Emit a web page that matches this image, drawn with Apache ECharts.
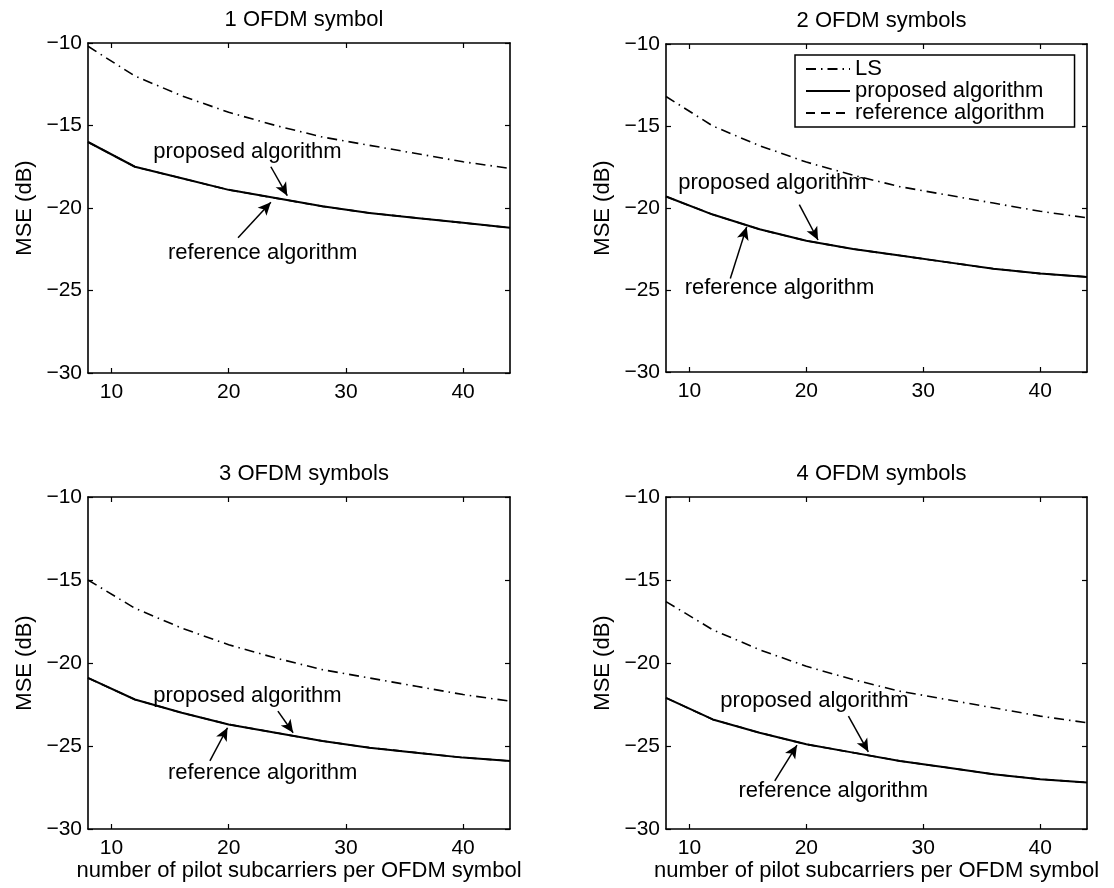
<!DOCTYPE html>
<html>
<head>
<meta charset="utf-8">
<script src="https://cdn.jsdelivr.net/npm/echarts@6/dist/echarts.min.js"></script>
<style>html,body{margin:0;padding:0;background:#fff;}#c{width:1114px;height:888px;}</style>
</head>
<body>
<div id="c"></div>
<script>
// ---- data ----
const pilots = [8, 12, 16, 20, 24, 28, 32, 36, 40, 44];
const xTicks = [10, 20, 30, 40];
const yTicks = [-30, -25, -20, -15, -10];
const titles = ['1 OFDM symbol', '2 OFDM symbols', '3 OFDM symbols', '4 OFDM symbols'];
const seriesNames = ['LS', 'proposed algorithm', 'reference algorithm'];

const ls1   = [-10.2, -12.0, -13.2, -14.2, -15.0, -15.7, -16.2, -16.7, -17.2, -17.6];
const prop1 = [-16.0, -17.5, -18.2, -18.9, -19.4, -19.9, -20.3, -20.6, -20.9, -21.2];
const ref1  = [-16.0, -17.5, -18.2, -18.9, -19.4, -19.9, -20.3, -20.6, -20.9, -21.2];

const ls2   = [-13.2, -15.0, -16.2, -17.2, -18.0, -18.7, -19.2, -19.7, -20.2, -20.6];
const prop2 = [-19.3, -20.4, -21.3, -22.0, -22.5, -22.9, -23.3, -23.7, -24.0, -24.2];
const ref2  = [-19.3, -20.4, -21.3, -22.0, -22.5, -22.9, -23.3, -23.7, -24.0, -24.2];

const ls3   = [-15.0, -16.7, -17.9, -18.9, -19.7, -20.4, -20.9, -21.4, -21.9, -22.3];
const prop3 = [-20.9, -22.2, -23.0, -23.7, -24.2, -24.7, -25.1, -25.4, -25.7, -25.9];
const ref3  = [-20.9, -22.2, -23.0, -23.7, -24.2, -24.7, -25.1, -25.4, -25.7, -25.9];

const ls4   = [-16.3, -18.0, -19.2, -20.2, -21.0, -21.7, -22.2, -22.7, -23.2, -23.6];
const prop4 = [-22.1, -23.4, -24.2, -24.9, -25.4, -25.9, -26.3, -26.7, -27.0, -27.2];
const ref4  = [-22.1, -23.4, -24.2, -24.9, -25.4, -25.9, -26.3, -26.7, -27.0, -27.2];

// annotation anchor points in data coordinates (pilots, MSE dB)
const propText  = [[21.6, -16.6], [17.1, -18.5], [21.6, -22.0], [20.7, -22.3]];
const propArrow = [[[23.6, -17.5], [25.0, -19.25]], [[19.4, -19.8], [21.0, -21.95]], [[24.2, -22.9], [25.5, -24.2]], [[23.6, -23.2], [25.3, -25.35]]];
const refText   = [[22.9, -22.75], [17.7, -24.9], [22.9, -26.6], [22.3, -27.7]];
const refArrow  = [[[20.8, -21.8], [23.6, -19.65]], [[13.5, -24.3], [14.9, -21.15]], [[18.4, -25.9], [19.9, -23.9]], [[17.3, -27.1], [19.2, -24.95]]];

const lsData = [ls1, ls2, ls3, ls4];
const propData = [prop1, prop2, prop3, prop4];
const refData = [ref1, ref2, ref3, ref4];

// ---- layout ----
const FONT = 'Liberation Sans, Arial, Helvetica, sans-serif';
const FS = 22;
const FT = 21;
const grids = [
  {left: 88, top: 43, width: 422, height: 330},
  {left: 666, top: 44, width: 421, height: 328},
  {left: 88, top: 497, width: 422, height: 332},
  {left: 666, top: 497, width: 421, height: 332}
];
const minus = v => String(v).replace('-', '\u2212');
const lineCol = '#000';

const option = {
  animation: false,
  backgroundColor: '#fff',
  textStyle: {fontFamily: FONT, color: '#000'},
  title: [],
  legend: {
    data: seriesNames,
    orient: 'vertical',
    left: 795, top: 55,
    itemWidth: 44, itemHeight: 14, itemGap: 0,
    padding: [3, 30, 3, 10],
    backgroundColor: '#fff',
    borderColor: '#000', borderWidth: 1.5, borderRadius: 0,
    itemStyle: {color: 'rgba(0,0,0,0)', borderColor: 'rgba(0,0,0,0)', borderWidth: 0, opacity: 0},
    textStyle: {fontFamily: FONT, fontSize: FS, color: '#000', lineHeight: 20, height: 20},
    selectedMode: false
  },
  grid: [],
  xAxis: [],
  yAxis: [],
  series: []
};

grids.forEach((g, i) => {
  option.grid.push(Object.assign({containLabel: false, show: false}, g));
  option.title.push({
    text: titles[i],
    left: g.left + g.width / 2,
    top: g.top - 39,
    textAlign: 'center',
    textStyle: {fontFamily: FONT, fontSize: FS, fontWeight: 'normal', color: '#000'}
  });
  const bottomRow = i >= 2;
  const axLine = {show: true, onZero: false, lineStyle: {color: lineCol, width: 1.6}};
  const tick = {show: true, inside: true, length: 5, customValues: xTicks, lineStyle: {color: lineCol, width: 1.2}};
  option.xAxis.push({
    type: 'value', gridIndex: i, min: 8, max: 44, position: 'bottom',
    axisLine: axLine, axisTick: tick,
    axisLabel: {show: true, customValues: xTicks, fontFamily: FONT, fontSize: FT, color: '#000', margin: 9},
    splitLine: {show: false},
    name: bottomRow ? 'number of pilot subcarriers per OFDM symbol' : '',
    nameLocation: 'middle', nameGap: 29,
    nameTextStyle: {fontFamily: FONT, fontSize: FS, color: '#000'}
  });
  option.xAxis.push({
    type: 'value', gridIndex: i, min: 8, max: 44, position: 'top',
    axisLine: axLine, axisTick: tick,
    axisLabel: {show: false, customValues: xTicks}, splitLine: {show: false}
  });
  const ytick = {show: true, inside: true, length: 5, lineStyle: {color: lineCol, width: 1.2}};
  option.yAxis.push({
    type: 'value', gridIndex: i, min: -30, max: -10, interval: 5, position: 'left',
    axisLine: axLine, axisTick: ytick,
    axisLabel: {show: true, formatter: minus, fontFamily: FONT, fontSize: FT, color: '#000', margin: 6},
    splitLine: {show: false},
    name: 'MSE (dB)', nameLocation: 'middle', nameGap: 52, nameRotate: 90,
    nameTextStyle: {fontFamily: FONT, fontSize: FS, color: '#000'}
  });
  option.yAxis.push({
    type: 'value', gridIndex: i, min: -30, max: -10, interval: 5, position: 'right',
    axisLine: axLine, axisTick: ytick,
    axisLabel: {show: false}, splitLine: {show: false}
  });

  const mk = (ys) => pilots.map((x, k) => [x, ys[k]]);
  const common = {type: 'line', xAxisIndex: 2 * i, yAxisIndex: 2 * i, symbol: 'none', smooth: false, silent: true};
  option.series.push(Object.assign({}, common, {
    name: 'LS', data: mk(lsData[i]),
    lineStyle: {color: '#000', width: 1.6, type: [10, 5, 1.5, 5]}, itemStyle: {color: '#000'}
  }));
  option.series.push(Object.assign({}, common, {
    name: 'reference algorithm', data: mk(refData[i]),
    lineStyle: {color: '#000', width: 1.6, type: [9, 6]}, itemStyle: {color: '#000'}
  }));
  option.series.push(Object.assign({}, common, {
    name: 'proposed algorithm', data: mk(propData[i]),
    lineStyle: {color: '#000', width: 2, type: 'solid'}, itemStyle: {color: '#000'},
    markLine: {
      silent: true, animation: false,
      symbol: ['none', 'arrow'], symbolSize: [9, 13],
      label: {show: false},
      lineStyle: {color: '#000', width: 1.5, type: 'solid'},
      data: [
        [{coord: propArrow[i][0]}, {coord: propArrow[i][1]}],
        [{coord: refArrow[i][0]}, {coord: refArrow[i][1]}]
      ]
    },
    markPoint: {
      silent: true, animation: false,
      symbol: 'rect', symbolSize: 1,
      itemStyle: {color: 'rgba(0,0,0,0)'},
      label: {show: true, position: 'inside', formatter: '{b}', fontFamily: FONT, fontSize: FS, color: '#000'},
      data: [
        {name: 'proposed algorithm', coord: propText[i]},
        {name: 'reference algorithm', coord: refText[i]}
      ]
    }
  }));
});

const chart = echarts.init(document.getElementById('c'), null, {renderer: 'canvas'});
chart.setOption(option);
</script>
</body>
</html>
